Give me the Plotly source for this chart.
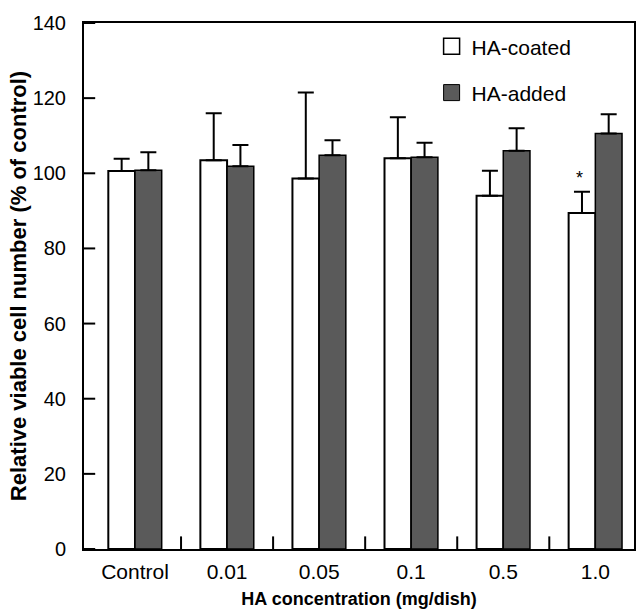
import plotly.graph_objects as go

categories = ["Control", "0.01", "0.05", "0.1", "0.5", "1.0"]
coated = [100.6, 103.5, 98.6, 104.0, 94.0, 89.4]
coated_err = [3.3, 12.5, 22.9, 10.9, 6.7, 5.7]
added = [100.8, 101.9, 104.8, 104.3, 106.0, 110.6]
added_err = [4.8, 5.6, 4.0, 3.8, 6.0, 5.1]
y_ticks = [0, 20, 40, 60, 80, 100, 120, 140]
significant = "1.0"

FONT = "Liberation Sans, Arial, sans-serif"
DARK = "#5a5a5a"

positions = list(range(len(categories)))
boundaries = [p + 0.5 for p in positions[:-1]]
XR = [-0.554, 5.42]
YR = [0, 140]

fig = go.Figure()
fig.add_trace(go.Bar(
    x=positions, y=coated, name="HA-coated", showlegend=False,
    marker=dict(color="white", line=dict(color="black", width=2)),
    error_y=dict(type="data", symmetric=False, array=coated_err,
                 arrayminus=[0] * len(coated), color="black", thickness=2, width=8),
))
fig.add_trace(go.Bar(
    x=positions, y=added, name="HA-added", showlegend=False,
    marker=dict(color=DARK, line=dict(color="black", width=1.5)),
    error_y=dict(type="data", symmetric=False, array=added_err,
                 arrayminus=[0] * len(added), color="black", thickness=2, width=8),
))
# legend entries
fig.add_trace(go.Scatter(
    x=[None], y=[None], mode="markers", name="HA-coated", legendgroup="a",
    marker=dict(symbol="square", size=20, color="white", line=dict(color="black", width=1.5)),
))
fig.add_trace(go.Scatter(
    x=[None], y=[None], mode="markers", name="HA-added", legendgroup="b",
    marker=dict(symbol="square", size=20, color=DARK, line=dict(color="black", width=1)),
))
# inward tick marks (half of each marker is clipped by the plot area)
fig.add_trace(go.Scatter(
    x=boundaries, y=[YR[0]] * len(boundaries), mode="markers", cliponaxis=True,
    marker=dict(symbol="line-ns-open", size=18, color="black", line=dict(color="black", width=2)),
    showlegend=False, hoverinfo="skip"))
fig.add_trace(go.Scatter(
    x=[XR[0]] * len(y_ticks), y=y_ticks, mode="markers", cliponaxis=True,
    marker=dict(symbol="line-ew-open", size=16, color="black", line=dict(color="black", width=2)),
    showlegend=False, hoverinfo="skip"))
# invisible trace on the label axis
fig.add_trace(go.Scatter(x=positions, y=[0] * len(positions), xaxis="x2", mode="markers",
                         marker=dict(opacity=0), showlegend=False, hoverinfo="skip"))

si = categories.index(significant)
fig.add_annotation(x=si, y=coated[si] + coated_err[si], text="*", showarrow=False,
                   xshift=-16, yshift=14, font=dict(family=FONT, size=18, color="black"))

fig.update_layout(
    width=639, height=612,
    margin=dict(l=84, r=5, t=23, b=63),
    paper_bgcolor="white", plot_bgcolor="white",
    barmode="group", bargap=0.42, bargroupgap=0,
    font=dict(family=FONT, color="black"),
    xaxis=dict(
        type="linear", range=XR, automargin=False,
        tickmode="array", tickvals=boundaries, showticklabels=False,
        showline=True, linecolor="black", linewidth=2, mirror=True,
        ticks="", showgrid=False, zeroline=False,
        title=dict(text="<b>HA concentration (mg/dish)</b>", font=dict(size=18), standoff=42),
    ),
    xaxis2=dict(
        type="linear", range=XR, overlaying="x", anchor="y", side="bottom",
        automargin=False, showline=False, showgrid=False, zeroline=False,
        tickmode="array", tickvals=positions, ticktext=categories, ticks="",
        tickfont=dict(size=21), ticklabelstandoff=8,
    ),
    yaxis=dict(
        range=YR, tickvals=y_ticks, automargin=False,
        showline=True, linecolor="black", linewidth=2, mirror=True,
        ticks="", showgrid=False, zeroline=False,
        tickfont=dict(size=20), ticklabelstandoff=12,
        title=dict(text="<b>Relative viable cell number (% of control)</b>",
                   font=dict(size=22), standoff=0),
    ),
    legend=dict(
        x=0.632, y=0.994, xanchor="left", yanchor="top",
        bgcolor="rgba(0,0,0,0)", font=dict(size=21),
        tracegroupgap=16, itemsizing="trace",
    ),
)

fig.write_html(
    "out.html",
    config={"displayModeBar": False},
    post_script="document.body.style.margin='0';document.body.style.overflow='hidden';",
)
